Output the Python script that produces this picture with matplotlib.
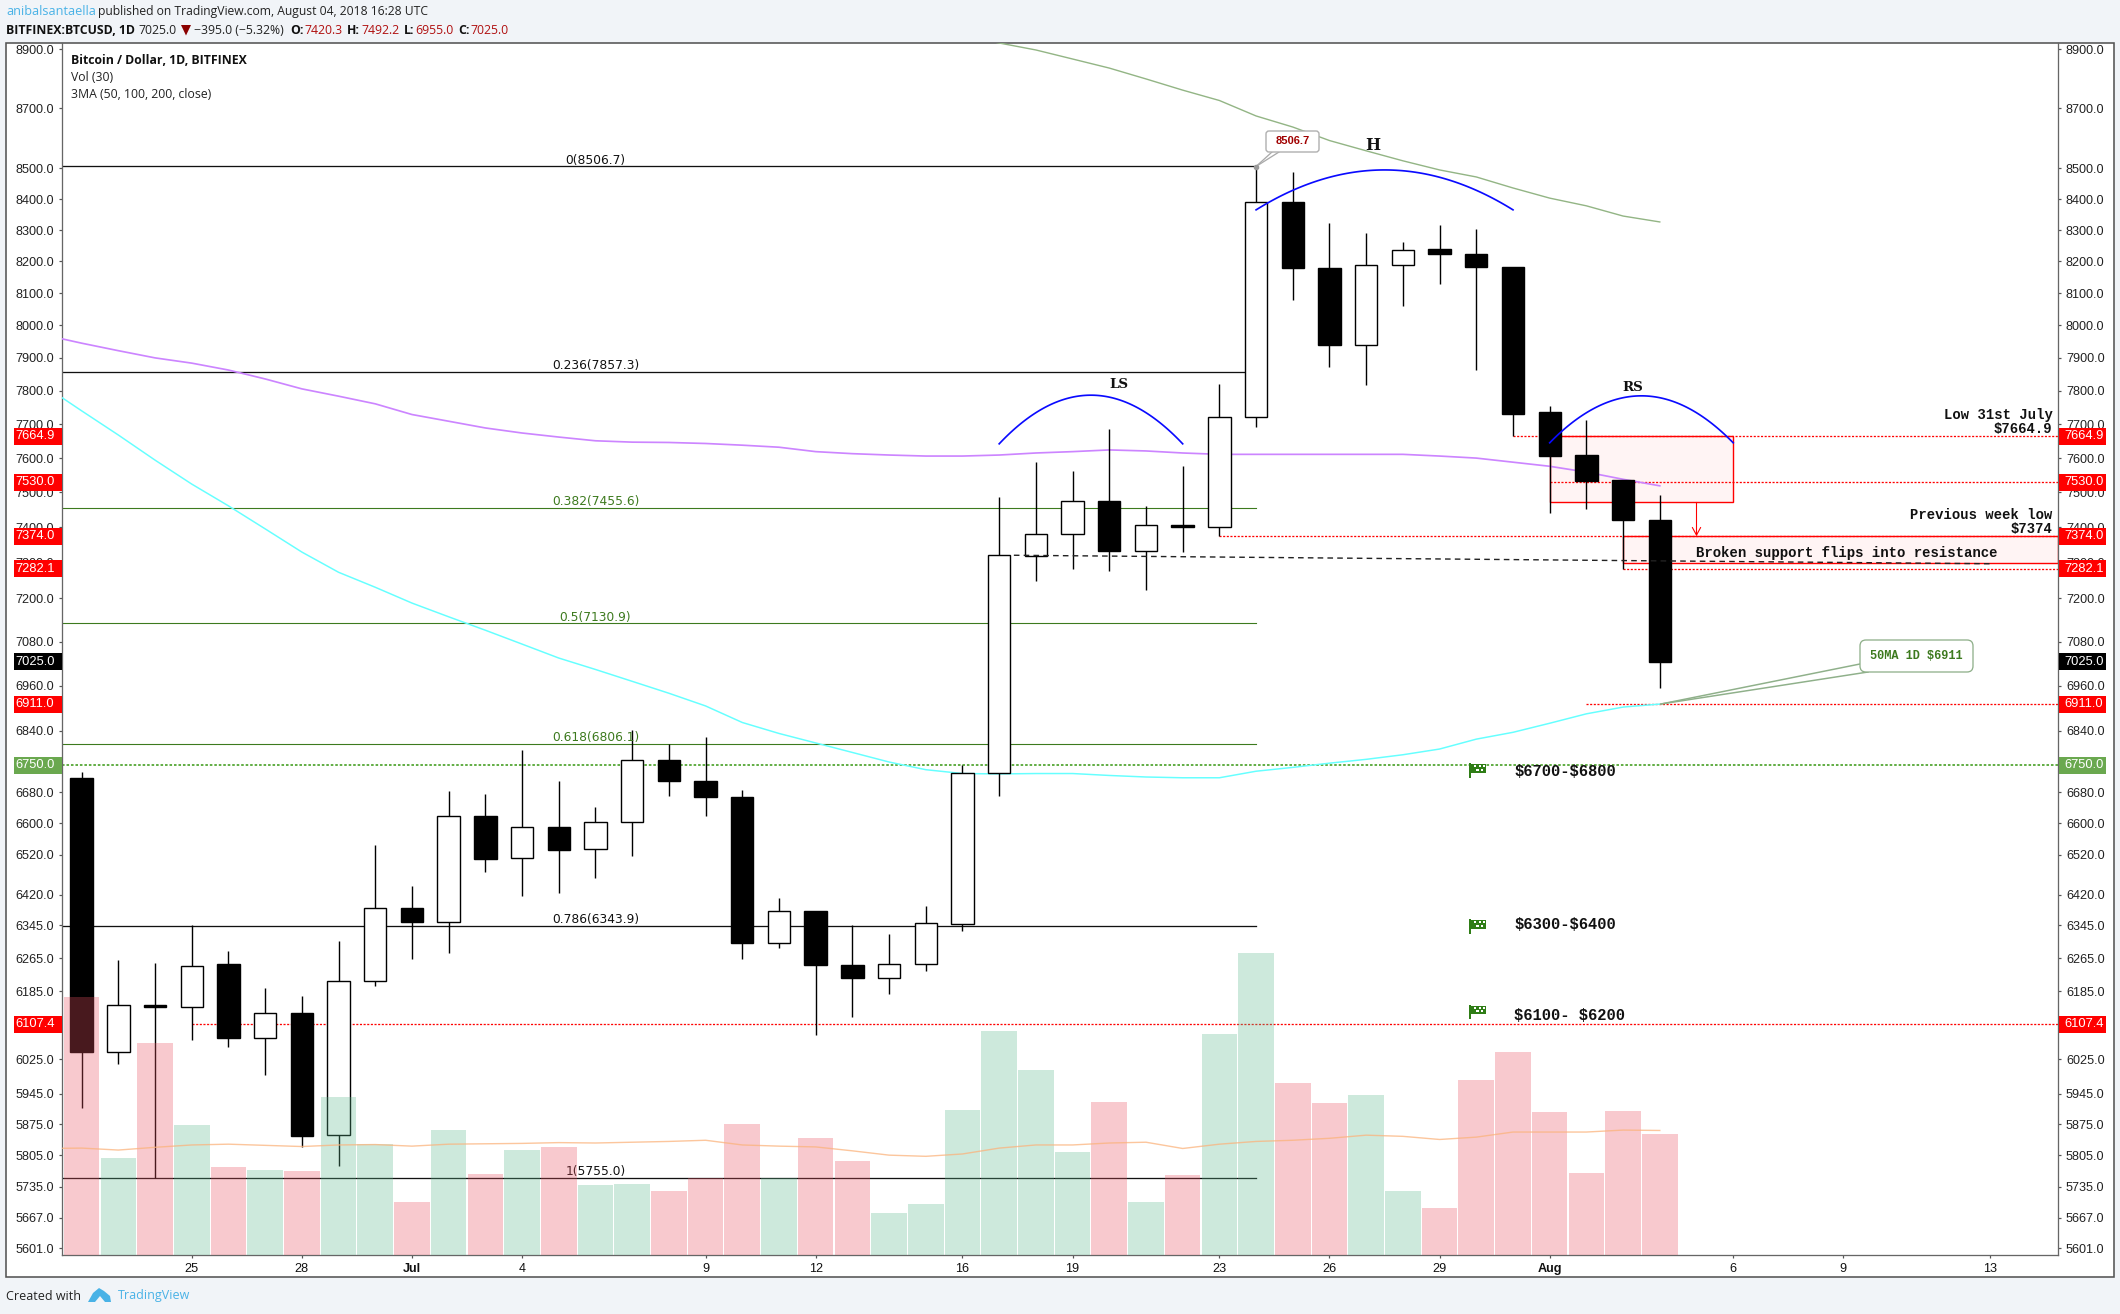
import numpy as np
import matplotlib
matplotlib.use("Agg")
import matplotlib.pyplot as plt
from matplotlib.patches import Rectangle, FancyBboxPatch, Polygon
from matplotlib.transforms import Affine2D
from matplotlib.ticker import NullLocator, FixedLocator, FixedFormatter

# ---------- data ----------
days = list(range(-9, 35))   # day offset from 1 July 2018
opens = [6717,6041,6152,6147,6250,6074,6134,5850,6209,6388,6353,6619,6511,6591,6534,6603,6763,6709,6668,6302,6381,6249,
         6218,6250,6349,6730,7319,7379,7474,7333,7405,7400,7721,8391,8179,7938,8188,8238,8224,8183,7738,7610,7535,7420.3]
highs = [6732,6261,6252,6345,6283,6194,6173,6306,6546,6441,6684,6676,6789,6708,6642,6842,6804,6823,6686,6411,6381,6345,
         6324,6393,6750,7487,7588,7563,7686,7460,7576,7820,8506.7,8489,8323,8291,8263,8316,8302,8183,7755,7714,7535,7492.2]
lows = [5912,6014,5755,6070,6053,5988,5824,5781,6197,6262,6277,6476,6417,6425,6462,6516,6669,6618,6262,6290,6081,6124,
        6179,6233,6332,6669,7248,7282,7276,7222,7330,7374,7692,8078,7873,7818,8059,8128,7864,7665,7441,7451,7282,6955]
closes = [6041,6152,6147,6247,6074,6134,5849,6209,6388,6352,6619,6510,6591,6533,6603,6763,6708,6667,6302,6380,6248,6218,
          6251,6350,6730,7320,7379,7474,7333,7405,7399,7721,8391,8178,7938,8188,8235,8222,8182,7731,7605,7533,7420,7025]
volume = [660,248,542,333,225,218,215,404,284,136,320,208,269,276,179,182,164,196,335,196,299,241,
          108,131,371,573,473,264,391,136,205,565,772,440,389,409,164,121,448,519,366,210,368,310]
ma_days = list(range(-10, 35))
vol_ma = [272,273,268,275,281,283,280,277,281,282,278,283,284,285,287,286,288,290,293,281,278,276,266,
          255,252,258,273,281,281,286,288,272,283,290,293,298,306,303,295,301,314,314,314,319,318]
ma50 = [7814,7740,7668,7594,7524,7461,7395,7329,7272,7230,7186,7148,7111,7073,7035,7004,6972,6940,6906,6862,6833,6808,6783,
        6758,6738,6728,6727,6728,6728,6723,6719,6717,6717,6734,6744,6755,6765,6777,6792,6818,6836,6860,6885,6903,6911]
ma100 = [7970,7945,7922,7900,7884,7863,7836,7806,7784,7761,7729,7709,7689,7674,7662,7651,7647,7646,7643,7638,7632,7619,7613,
         7609,7606,7606,7609,7615,7619,7624,7621,7615,7611,7611,7611,7611,7611,7611,7606,7600,7588,7576,7559,7538,7519]
ma200_days = list(range(15, 35))
ma200 = [8946,8922,8898,8867,8836,8799,8761,8726,8674,8637,8592,8558,8525,8495,8472,8436,8403,8378,8345,8326]

fib_levels = [0, 0.236, 0.382, 0.5, 0.618, 0.786, 1]
fib_prices = [8506.7, 7857.3, 7455.6, 7130.9, 6806.1, 6343.9, 5755.0]
fib_labels = ["0(8506.7)", "0.236(7857.3)", "0.382(7455.6)", "0.5(7130.9)", "0.618(6806.1)", "0.786(6343.9)", "1(5755.0)"]

y_ticks = [8900,8700,8500,8400,8300,8200,8100,8000,7900,7800,7700,7600,7500,7400,7300,7200,7080,6960,6840,
           6680,6600,6520,6420,6345,6265,6185,6025,5945,5875,5805,5735,5667,5601]
x_ticks = [-6,-3,0,3,8,11,15,18,22,25,28,31,36,39,43]
x_labels = ["25","28","Jul","4","9","12","16","19","23","26","29","Aug","6","9","13"]

# price tags: (price, fill)
tags_both = [(7664.9,"#ff0000"),(7530.0,"#ff0000"),(7374.0,"#ff0000"),(7282.1,"#ff0000"),(7025.0,"#000000"),
             (6911.0,"#ff0000"),(6750.0,"#6aa84f"),(6107.4,"#ff0000")]
# red dotted levels: (price, first day)
red_levels = [(7664.9,30),(7530.0,31),(7374.0,22),(7282.1,33),(6911.0,32),(6107.4,-6)]
targets = [r"\$6700-\$6800", r"\$6300-\$6400", r"\$6100- \$6200"]
target_y_px = [771.7, 924.7, 1015.6]
flag_y_px = [763, 919, 1004.6]

# ---------- layout ----------
W, H = 2120, 1314
BG = "#f1f4f8"
L, R, T, B = 61.6, 2058.0, 43.0, 1255.0
SANS = "Liberation Sans"
UI = "Open Sans"
MONO = "Liberation Mono"
SLAB = "DejaVu Serif"
GREEN = "#3d7a1e"
RED = "#ff0000"
BLUE_TV = "#49b2e6"
px = 1 / 1.389  # one pixel in points at dpi 100

fig = plt.figure(figsize=(W/100, H/100), dpi=100, facecolor=BG)
PX = Affine2D().scale(1, -1).translate(0, H)

fig.add_artist(Rectangle((6, 43), 2108, 1234, transform=PX, facecolor="white", edgecolor="#555555", lw=1.6*px, zorder=-5))

ax = fig.add_axes([L/W, 1-B/H, (R-L)/W, (B-T)/H], facecolor="none")
ax.set_yscale("log")
ax.set_xlim(-9.547, 44.85)
ax.set_ylim(5586, 8922)
ax.yaxis.set_major_locator(FixedLocator(y_ticks))
ax.yaxis.set_major_formatter(FixedFormatter([f"{v:.1f}" for v in y_ticks]))
ax.yaxis.set_minor_locator(NullLocator())
ax.xaxis.set_major_locator(FixedLocator(x_ticks))
ax.xaxis.set_major_formatter(FixedFormatter(x_labels))
ax.tick_params(axis="y", which="major", left=True, right=True, labelleft=True, labelright=True,
               length=3.5*px, width=1.2*px, color="#555555", labelsize=9.1, pad=2.2*px*2, labelcolor="#222222")
ax.tick_params(axis="x", length=3.5*px, width=1.2*px, color="#555555", labelsize=9.1, pad=3.4, labelcolor="#111111")
for tick in ax.yaxis.get_major_ticks():
    tick.label1.set_fontfamily(SANS)
    tick.label2.set_fontfamily(SANS)
for tick, name in zip(ax.xaxis.get_major_ticks(), x_labels):
    tick.label1.set_fontfamily(SANS)
    if name in ("Jul", "Aug"):
        tick.label1.set_fontweight("bold")
ax.spines["top"].set_visible(False)
for s in ("left", "right", "bottom"):
    ax.spines[s].set_color("#666666")
    ax.spines[s].set_linewidth(1.3*px)

# fib levels
for lev, price, lab in zip(fib_levels, fib_prices, fib_labels):
    col = GREEN if lev in (0.382, 0.5, 0.618) else "#111111"
    ax.plot([-9.5, 23], [price, price], color=col, lw=(1.1 if col == GREEN else 1.3)*px, zorder=2)
    ax.text(5, price*0.9998, lab, color=col, ha="center", va="bottom", fontsize=8.8, fontfamily="DejaVu Sans", zorder=6)

# moving averages
ax.plot(ma_days, ma100, color="#cc85ff", lw=1.7*px, zorder=3)
ax.plot(ma_days, ma50, color="#66ffff", lw=1.5*px, zorder=3)
ax.plot(ma200_days, ma200, color="#93b585", lw=1.4*px, zorder=3)

# zones
box_fill = "#ff0000"
ax.add_patch(Rectangle((31, 7471), 5, 7664.9-7471, facecolor=box_fill, alpha=0.045, edgecolor="none", zorder=1))
ax.add_patch(Rectangle((31, 7471), 5, 7664.9-7471, fill=False, edgecolor=RED, lw=1.4*px, zorder=2))
ax.add_patch(Rectangle((33, 7299), 44.85-33, 7374-7299, facecolor=box_fill, alpha=0.045, edgecolor="none", zorder=1))
ax.add_patch(Rectangle((33, 7299), 44.85-33, 7374-7299, fill=False, edgecolor=RED, lw=1.4*px, zorder=2))
ax.annotate("", xy=(35, 7374), xytext=(35, 7471),
            arrowprops=dict(arrowstyle="->,head_length=0.55,head_width=0.3", color=RED, lw=1.1*px, shrinkA=0, shrinkB=0), zorder=5)

# levels
for price, start in red_levels:
    ax.plot([start, 44.85], [price, price], color=RED, lw=1.3*px, ls=(0, (1.6, 1.2)), zorder=2.5)
ax.plot([-9.547, 44.85], [6750, 6750], color="#3f9c1c", lw=1.6*px, ls=(0, (1.6, 1.2)), zorder=2.5)
ax.plot([16.4, 43], [7320, 7296], color="#222222", lw=1.4*px, ls=(0, (4, 3)), zorder=5)

# candles
d = np.array(days, dtype=float)
o, h, l, c = map(np.array, (opens, highs, lows, closes))
ax.vlines(d, l, h, color="black", lw=1.4*px, zorder=3.5)
up = c >= o
ax.bar(d[up], (c-o)[up], bottom=o[up], width=0.61, facecolor="white", edgecolor="black", lw=1.4*px, zorder=4)
ax.bar(d[~up], (o-c)[~up], bottom=c[~up], width=0.61, facecolor="black", edgecolor="black", lw=1.4*px, zorder=4)

# arcs (parabola through start, apex and end, in day/log-price space)
arc_shapes = {"LS": (16, 21, 7642, 7787), "H": (23, 30, 8365, 8495), "RS": (31, 36, 7645, 7785)}
for name, (d0, d1, p_end, p_top) in arc_shapes.items():
    t = np.linspace(-1, 1, 80)
    ax.plot((d0+d1)/2 + t*(d1-d0)/2, np.exp(np.log(p_top) + (np.log(p_end)-np.log(p_top))*t**2),
            color="#0a0aff", lw=1.7*px, zorder=6)

# volume pane
ax2 = fig.add_axes([L/W, 1-B/H, (R-L)/W, (B-T)/H], facecolor="none")
ax2.set_xlim(ax.get_xlim())
ax2.set_ylim(0, 3095)
ax2.axis("off")
vcol = ["#5eb88e" if u else "#eb5161" for u in up]
ax2.bar(d, volume, width=0.97, color=vcol, alpha=0.31, linewidth=0)
ax2.plot(ma_days, vol_ma, color="#fbb37c", lw=1.4*px, alpha=0.75)

# ---------- text in pixel positions ----------
def T_(x, y, s, **kw):
    kw.setdefault("va", "center")
    kw.setdefault("zorder", 20)
    return fig.text(x, y, s, transform=PX, **kw)

# header
T_(6, 11.7, "anibalsantaella", color=BLUE_TV, fontsize=9.1, fontfamily=UI)
T_(98, 11.7, "published on TradingView.com, August 04, 2018 16:28 UTC", color="#222222", fontsize=8.7, fontfamily=UI)
T_(6, 30, "BITFINEX:BTCUSD, 1D", color="#111111", fontsize=8.8, fontfamily=UI, fontweight="bold")
T_(138, 30, "7025.0", color="#222222", fontsize=8.8, fontfamily=UI)
fig.add_artist(Polygon([(181, 25), (191, 25), (186, 35.5)], transform=PX, facecolor="#8b0000", edgecolor="none", zorder=20))
T_(194, 30, "\u2212395.0 (\u22125.32%)", color="#222222", fontsize=8.8, fontfamily=UI)
for xl, lab, xv, val in [(290, "O:", 304, "7420.3"), (347, "H:", 361, "7492.2"), (404, "L:", 415, "6955.0"), (458, "C:", 470, "7025.0")]:
    T_(xl, 30, lab, color="#111111", fontsize=8.8, fontfamily=UI, fontweight="bold")
    T_(xv, 30, val, color="#b01010", fontsize=8.8, fontfamily=UI)

# legend
T_(71, 60.7, "Bitcoin / Dollar, 1D, BITFINEX", color="#111111", fontsize=8.8, fontfamily=UI, fontweight="bold")
T_(71, 77.7, "Vol (30)", color="#222222", fontsize=8.8, fontfamily=UI)
T_(71, 94.7, "3MA (50, 100, 200, close)", color="#222222", fontsize=8.8, fontfamily=UI)

# footer
T_(6, 1296, "Created with", color="#222222", fontsize=9, fontfamily=UI)
T_(118, 1296, "TradingView", color=BLUE_TV, fontsize=9, fontfamily=UI)
fig.add_artist(Polygon([(88, 1302), (93, 1293), (99, 1288), (104, 1291), (110, 1296), (111, 1302), (105, 1302), (100, 1296), (95, 1302)],
                       transform=PX, facecolor=BLUE_TV, edgecolor="none", zorder=20))

# chart notes
T_(1119, 384, "LS", color="#111111", fontsize=9.6, fontfamily=SLAB, fontweight="bold", ha="center")
T_(1373, 146, "H", color="#111111", fontsize=11.5, fontfamily=SLAB, fontweight="bold", ha="center")
T_(1633, 387.5, "RS", color="#111111", fontsize=9.6, fontfamily=SLAB, fontweight="bold", ha="center")
T_(2052.7, 415, "Low 31st July", color="#111111", fontsize=10, fontfamily=MONO, fontweight="bold", ha="right")
T_(2052.7, 429, r"\$7664.9", color="#111111", fontsize=10, fontfamily=MONO, fontweight="bold", ha="right")
T_(2052.7, 515, "Previous week low", color="#111111", fontsize=10, fontfamily=MONO, fontweight="bold", ha="right")
T_(2052.7, 529, r"\$7374", color="#111111", fontsize=10, fontfamily=MONO, fontweight="bold", ha="right")
T_(1696, 553, "Broken support flips into resistance", color="#111111", fontsize=10.1, fontfamily=MONO, fontweight="bold")

# targets with flags
for s, ty, fy in zip(targets, target_y_px, flag_y_px):
    T_(1514.4, ty, s, color="#111111", fontsize=11.2, fontfamily=MONO, fontweight="bold")
    fig.add_artist(Rectangle((1469, fy), 1.5, 14.5, transform=PX, facecolor="#2f7d16", edgecolor="none", zorder=20))
    fig.add_artist(Rectangle((1470.5, fy+1), 15.5, 8.5, transform=PX, facecolor="#2f7d16", edgecolor="none", zorder=20))
    for xo, yo in [(3, 2), (8, 2), (12, 2), (5.5, 5.5), (10, 5.5)]:
        fig.add_artist(Rectangle((1470.5+xo, fy+yo), 2.5, 2.2, transform=PX, facecolor="white", edgecolor="none", zorder=21))

# high callout
for xe in (1272, 1279):
    fig.add_artist(plt.Line2D([1256, xe], [166.5, 152], transform=PX, color="#aaaaaa", lw=1.3*px, zorder=20))
fig.add_artist(plt.Line2D([1256], [166.5], transform=PX, marker="o", ms=3, color="#999999", zorder=20))
fig.add_artist(FancyBboxPatch((1268, 133), 49, 17, boxstyle="round,pad=2,rounding_size=3", transform=PX,
                              facecolor="white", edgecolor="#b0b0b0", lw=1.4*px, zorder=21))
T_(1292.5, 141.5, "8506.7", color="#a00000", fontsize=8, fontfamily=SANS, fontweight="bold", ha="center", zorder=22)

# 50MA callout
for (xe, ye) in [(1860, 664), (1868, 672)]:
    fig.add_artist(plt.Line2D([1661, xe], [704, ye], transform=PX, color="#8fb08a", lw=1.5*px, zorder=20))
fig.add_artist(FancyBboxPatch((1864, 644), 105, 24, boxstyle="round,pad=4,rounding_size=6", transform=PX,
                              facecolor="white", edgecolor="#8fb08a", lw=1.3*px, zorder=21))
T_(1916.5, 656, r"50MA 1D \$6911", color=GREEN, fontsize=8.6, fontfamily=MONO, fontweight="bold", ha="center", zorder=22)

# price tags on both scales
fig.canvas.draw()
for price, col in tags_both:
    yy = H - ax.transData.transform((0, price))[1]
    for x0, wd, xt, ha in [(14, 47.6, 54.5, "right"), (2058.6, 47.4, 2064, "left")]:
        fig.add_artist(Rectangle((x0, yy-8.5), wd, 17, transform=PX, facecolor=col, edgecolor="none", zorder=18))
        T_(xt, yy, f"{price:.1f}", color="white", fontsize=9.3, fontfamily=SANS, ha=ha, zorder=19)

fig.savefig("out.png", dpi=100, facecolor=BG)
